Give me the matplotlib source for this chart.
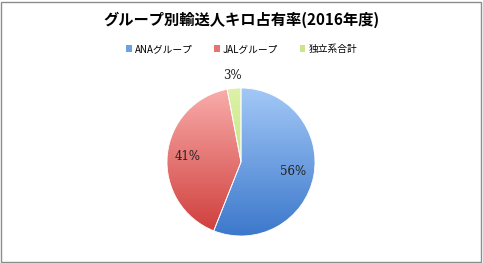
import matplotlib
matplotlib.use("Agg")
import matplotlib.pyplot as plt
import numpy as np
from matplotlib.colors import LinearSegmentedColormap
from matplotlib.patches import Rectangle

plt.rcParams['font.family'] = ['Noto Sans CJK JP', 'DejaVu Sans']

title = "グループ別輸送人キロ占有率(2016年度)"
categories = ["ANAグループ", "JALグループ", "独立系合計"]
values = [56, 41, 3]
top_colors = ["#A3C8F7", "#F9ADAB", "#DDF2A8"]
bottom_colors = ["#3C78CB", "#CE3C39", "#B0D865"]
mid_colors = ["#6FA0E4", "#E87370", "#C9E688"]

fig = plt.figure(figsize=(4.83, 2.63), dpi=100)
fig.patches.append(Rectangle((0.002, 0.004), 0.994, 0.99, transform=fig.transFigure,
                             fill=False, edgecolor="#8c8c8c", linewidth=1.0))

# pie axes: center (241,162) px, radius 74 px
r_px = 74
w = 2 * r_px / 483 * 1.08
h = 2 * r_px / 263 * 1.08
cx, cy = 241 / 483, 1 - 162 / 263
ax = fig.add_axes([cx - w / 2, cy - h / 2, w, h])

wedges, texts, autotexts = ax.pie(
    values, startangle=90, counterclock=False, colors=mid_colors,
    autopct=lambda p: f"{p:.0f}%", pctdistance=0.72,
    wedgeprops=dict(linewidth=0.6, edgecolor="white"),
    textprops=dict(fontsize=8.5, color="#202020", family=['DejaVu Serif']))

# gradient fill clipped to each wedge
for wdg, tc, bc in zip(wedges, top_colors, bottom_colors):
    cmap = LinearSegmentedColormap.from_list("g", [bc, tc])
    grad = np.linspace(0, 1, 256).reshape(-1, 1)
    im = ax.imshow(grad, extent=[-1, 1, -1, 1], origin="lower", cmap=cmap,
                   aspect="auto", zorder=wdg.get_zorder() + 0.1)
    im.set_clip_path(wdg)
    wdg.set_facecolor("none")
    wdg.set_zorder(wdg.get_zorder() + 0.2)

ax.set_xlim(-1.08, 1.08)
ax.set_ylim(-1.08, 1.08)
ax.set_aspect("equal")
for t in autotexts:
    t.set_zorder(10)
# small slice label outside
theta = np.deg2rad(90 + values[2] / sum(values) * 360 / 2)
autotexts[2].set_position((1.18 * np.cos(theta), 1.18 * np.sin(theta)))
ax.axis("off")

fig.text(0.5, 1 - 20 / 263, title, ha="center", va="center", fontsize=11,
         fontweight="bold", color="#000000")

handles = [Rectangle((0, 0), 1, 1, facecolor=c) for c in mid_colors]
fig.legend(handles, categories, loc="center", bbox_to_anchor=(0.5, 1 - 49 / 263),
           ncol=3, frameon=False, fontsize=7, handlelength=0.6, handleheight=0.6,
           handletextpad=0.3, columnspacing=2.2)

fig.savefig("out.png", dpi=100)
